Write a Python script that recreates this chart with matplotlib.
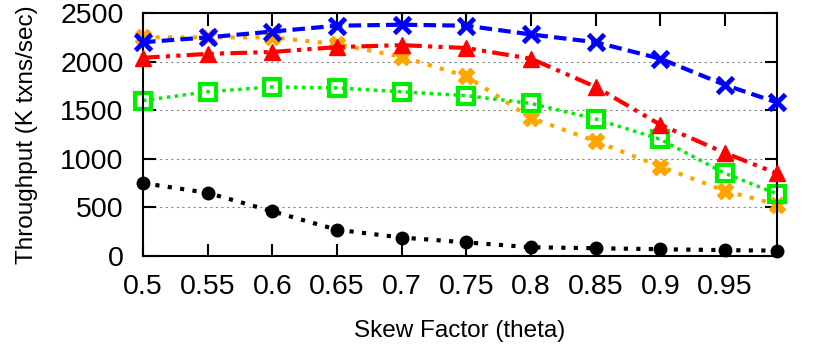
import matplotlib.pyplot as plt

plt.rcParams['font.family'] = ['Liberation Sans', 'DejaVu Sans']

theta = [0.5, 0.55, 0.6, 0.65, 0.7, 0.75, 0.8, 0.85, 0.9, 0.95, 0.99]
x_ticks = [0.5, 0.55, 0.6, 0.65, 0.7, 0.75, 0.8, 0.85, 0.9, 0.95]

blue_x = [2200, 2250, 2310, 2370, 2380, 2370, 2280, 2200, 2030, 1760, 1580]
red_tri = [2040, 2080, 2100, 2150, 2170, 2140, 2030, 1740, 1350, 1060, 850]
orange_x = [2250, 2250, 2250, 2180, 2050, 1850, 1420, 1180, 920, 670, 530]
green_sq = [1600, 1690, 1740, 1730, 1690, 1650, 1570, 1410, 1200, 850, 640]
black_dot = [750, 650, 460, 270, 190, 140, 90, 80, 70, 60, 55]

fig = plt.figure(figsize=(8.3, 3.44), dpi=100)
ax = fig.add_axes([0.1723, 0.2558, 0.7637, 0.7062])

# dotted horizontal grid like gnuplot
for y in [500, 1000, 1500, 2000]:
    ax.axhline(y, color='#888888', lw=0.8, ls=(0, (2, 3)), zorder=0)

ax.plot(theta, orange_x, color='orange', ls=(0, (1, 2)), lw=3, marker='X',
        ms=12, zorder=2, clip_on=False)
ax.plot(theta, red_tri, color='red', ls=(0, (4, 1.5, 1, 1.5, 1, 1.5)), lw=3,
        marker='^', ms=12, zorder=3, clip_on=False)
ax.plot(theta, blue_x, color='blue', ls=(0, (3, 1.5)), lw=3, marker='x', ms=11,
        mew=3.5, zorder=4, clip_on=False)
ax.plot(theta, green_sq, color='#00ee00', ls=(0, (1, 1.3)), lw=2.5, marker='s',
        ms=11, mfc='none', mew=3, zorder=2, clip_on=False)
ax.plot(theta, black_dot, color='black', ls=(0, (1, 2)), lw=3, marker='o',
        ms=9, zorder=2, clip_on=False)

ax.set_xlim(0.5, 0.99)
ax.set_ylim(0, 2500)
ax.set_xticks(x_ticks)
ax.set_xticklabels([str(t) for t in x_ticks])
ax.set_yticks([0, 500, 1000, 1500, 2000, 2500])
ax.tick_params(direction='in', top=True, right=True, length=9, width=1.5,
               labelsize=20.5)
ax.tick_params(axis='x', pad=13)
ax.tick_params(axis='y', pad=14)
for s in ax.spines.values():
    s.set_linewidth(1.5)

ax.set_xlabel('Skew Factor (theta)', fontsize=17.5, labelpad=14)
ax.set_ylabel('Throughput (K txns/sec)', fontsize=17.5, labelpad=16)

fig.savefig('out.png', dpi=100)
